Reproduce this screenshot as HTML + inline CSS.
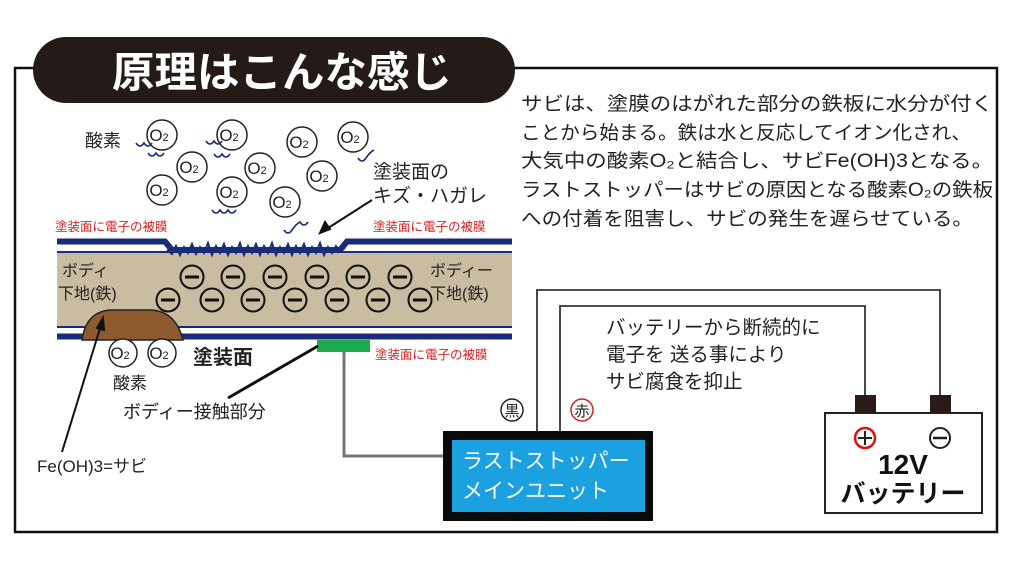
<!DOCTYPE html>
<html><head><meta charset="utf-8"><style>
html,body{margin:0;padding:0;background:#fff;}
svg{display:block;font-family:"Liberation Sans","Noto Sans CJK JP",sans-serif;}
</style></head><body>
<svg width="1024" height="576" viewBox="0 0 1024 576" xmlns="http://www.w3.org/2000/svg">
<rect x="15" y="68" width="982" height="464" fill="none" stroke="#111" stroke-width="2.5"/>
<rect x="33" y="37" width="482" height="66" rx="33" fill="#241a18"/>
<text x="282" y="87" font-size="42" font-weight="bold" fill="#fff" text-anchor="middle" textLength="340" lengthAdjust="spacingAndGlyphs">原理はこんな感じ</text>

<g font-size="19" fill="#222">
<text x="521" y="110" textLength="472" lengthAdjust="spacingAndGlyphs">サビは、塗膜のはがれた部分の鉄板に水分が付く</text>
<text x="521" y="139" textLength="450" lengthAdjust="spacingAndGlyphs">ことから始まる。鉄は水と反応してイオン化され、</text>
<text x="521" y="167" textLength="472" lengthAdjust="spacingAndGlyphs">大気中の酸素O₂と結合し、サビFe(OH)3となる。</text>
<text x="521" y="196" textLength="472" lengthAdjust="spacingAndGlyphs">ラストストッパーはサビの原因となる酸素O₂の鉄板</text>
<text x="521" y="225" textLength="452" lengthAdjust="spacingAndGlyphs">への付着を阻害し、サビの発生を遅らせている。</text>
</g>

<!-- layers -->
<rect x="57" y="253" width="455" height="73" fill="#c9bca0"/>
<path d="M57 241.5H165L172 250H340L347 241.5H512" fill="none" stroke="#1a2b7a" stroke-width="6"/>
<path d="M57 252H512" stroke="#1a2b7a" stroke-width="2"/>
<path d="M167 250 L172 254 176 246 180 255 184 247 188 253 192 244 196 254 200 247 204 253 208 243 212 255 216 246 220 253 224 244 228 255 232 247 236 253 240 243 244 255 248 246 252 253 256 244 260 255 264 246 268 253 272 243 276 255 280 247 284 253 288 244 292 255 296 246 300 253 304 244 308 255 312 247 316 253 320 243 324 255 328 247 332 253 336 246 340 251 345 248" fill="none" stroke="#1a2b7a" stroke-width="2"/>
<path d="M57 327H512" stroke="#1a2b7a" stroke-width="2"/>
<path d="M57 336.5H512" stroke="#1a2b7a" stroke-width="6"/>
<path d="M82 340 Q86 312 110 310 H152 Q176 312 183 340Z" fill="#8c5a2e" stroke="#222" stroke-width="1.5"/>
<rect x="317" y="340" width="53" height="12" fill="#1faa4a"/>

<!-- electrons -->
<g fill="none" stroke="#111" stroke-width="2">
<circle cx="192" cy="277" r="11.5"/><circle cx="233" cy="277" r="11.5"/><circle cx="275" cy="277" r="11.5"/><circle cx="317" cy="277" r="11.5"/><circle cx="358" cy="277" r="11.5"/><circle cx="400" cy="277" r="11.5"/>
<circle cx="168" cy="300" r="11.5"/><circle cx="212" cy="300" r="11.5"/><circle cx="253" cy="300" r="11.5"/><circle cx="295" cy="300" r="11.5"/><circle cx="337" cy="300" r="11.5"/><circle cx="378" cy="300" r="11.5"/><circle cx="420" cy="300" r="11.5"/>
<path stroke-width="3" d="M185 277h14M226 277h14M268 277h14M310 277h14M351 277h14M393 277h14M161 300h14M205 300h14M246 300h14M288 300h14M330 300h14M371 300h14M413 300h14"/>
</g>

<!-- O2 -->
<g fill="#fff" stroke="#222" stroke-width="1.5">
<circle cx="162" cy="135" r="15"/><circle cx="232" cy="135" r="15"/><circle cx="302" cy="142" r="15"/><circle cx="353" cy="137" r="15"/><circle cx="192" cy="167" r="15"/><circle cx="260" cy="168" r="15"/><circle cx="322" cy="176" r="15"/><circle cx="162" cy="190" r="15"/><circle cx="232" cy="192" r="15"/><circle cx="285" cy="202" r="15"/><circle cx="123" cy="353" r="14"/><circle cx="162" cy="353" r="14"/>
</g>
<g font-size="17" fill="#222" text-anchor="middle">
<text x="159" y="141">O<tspan font-size="11">2</tspan></text><text x="229" y="141">O<tspan font-size="11">2</tspan></text><text x="299" y="148">O<tspan font-size="11">2</tspan></text><text x="350" y="143">O<tspan font-size="11">2</tspan></text><text x="189" y="173">O<tspan font-size="11">2</tspan></text><text x="257" y="174">O<tspan font-size="11">2</tspan></text><text x="319" y="182">O<tspan font-size="11">2</tspan></text><text x="159" y="196">O<tspan font-size="11">2</tspan></text><text x="229" y="198">O<tspan font-size="11">2</tspan></text><text x="282" y="208">O<tspan font-size="11">2</tspan></text><text x="120" y="359">O<tspan font-size="11">2</tspan></text><text x="159" y="359">O<tspan font-size="11">2</tspan></text>
</g>
<g fill="none" stroke="#1a2b7a" stroke-width="1.6">
<path d="M136 143q4 6 8 0q4 6 8 0M148 153q4 6 8 0q4 6 8 0"/>
<path d="M206 141q4 6 8 0q4 6 8 0M214 154q4 6 8 0q4 6 8 0"/>
<path d="M212 210q4 6 8 0q4 6 8 0q4 6 8 0"/>
<path d="M284 230q4 6 8 0q4 -6 8 -8q4 6 8 0"/>
<path d="M358 158q4 6 8 0q4 -6 8 -8"/>
</g>

<g fill="#222">
<text x="85" y="147" font-size="18">酸素</text>
<text x="373" y="178" font-size="19">塗装面の</text>
<text x="373" y="202" font-size="19">キズ・ハガレ</text>
<text x="62" y="276" font-size="16">ボディ</text>
<text x="58" y="299" font-size="16">下地(鉄)</text>
<text x="430" y="276" font-size="16">ボディー</text>
<text x="430" y="299" font-size="16">下地(鉄)</text>
<text x="193" y="364" font-size="20" font-weight="bold">塗装面</text>
<text x="113" y="389" font-size="17">酸素</text>
<text x="123" y="418" font-size="18">ボディー接触部分</text>
<text x="37" y="472" font-size="17">Fe(OH)3=サビ</text>
</g>
<g fill="#d42020" font-size="12.5">
<text x="55" y="231">塗装面に電子の被膜</text>
<text x="373" y="231">塗装面に電子の被膜</text>
<text x="375" y="359">塗装面に電子の被膜</text>
</g>
<g stroke="#111" stroke-width="2" fill="#111">
<path d="M372 200L325 230"/><path d="M320 233l5 -11 5 7z"/>
<path d="M62 452L101 325"/><path d="M103 318l1 12 -7 -2z"/>
<path d="M228 398L318 346" stroke-width="3"/>
</g>

<path d="M344 352V456H444" fill="none" stroke="#777" stroke-width="3"/>
<path d="M537 431V290H940V396" fill="none" stroke="#333" stroke-width="1.8"/>
<path d="M560 431V306H865V396" fill="none" stroke="#333" stroke-width="1.8"/>
<rect x="443" y="431" width="210" height="90" fill="#0a0a0a"/>
<rect x="452" y="440" width="193" height="72" fill="#1ba0e0"/>
<text x="462" y="468" font-size="21" fill="#fff">ラストストッパー</text>
<text x="462" y="498" font-size="21" fill="#fff">メインユニット</text>

<g fill="#222" font-size="19.5">
<text x="606" y="334">バッテリーから断続的に</text>
<text x="606" y="361">電子を 送る事により</text>
<text x="606" y="388">サビ腐食を抑止</text>
</g>
<circle cx="512" cy="410" r="11" fill="#fff" stroke="#222" stroke-width="1.5"/>
<text x="512" y="416" font-size="15" text-anchor="middle" fill="#222">黒</text>
<circle cx="582" cy="410" r="11" fill="#fff" stroke="#d42020" stroke-width="1.5"/>
<text x="582" y="416" font-size="15" text-anchor="middle" fill="#222">赤</text>

<rect x="825" y="413" width="157" height="100" fill="#fff" stroke="#222" stroke-width="2"/>
<rect x="855" y="395" width="21" height="18" fill="#2a1a18"/>
<rect x="930" y="395" width="21" height="18" fill="#2a1a18"/>
<circle cx="865" cy="438" r="10" fill="none" stroke="#e01010" stroke-width="2.5"/>
<path d="M858 438h14M865 431v14" stroke="#222" stroke-width="2"/>
<circle cx="940" cy="438" r="10" fill="none" stroke="#222" stroke-width="2"/>
<path d="M933 438h14" stroke="#222" stroke-width="2.5"/>
<text x="903" y="474" font-size="28" font-weight="bold" text-anchor="middle" fill="#111">12V</text>
<text x="903" y="502" font-size="25" font-weight="bold" text-anchor="middle" fill="#111">バッテリー</text>
</svg>
</body></html>
